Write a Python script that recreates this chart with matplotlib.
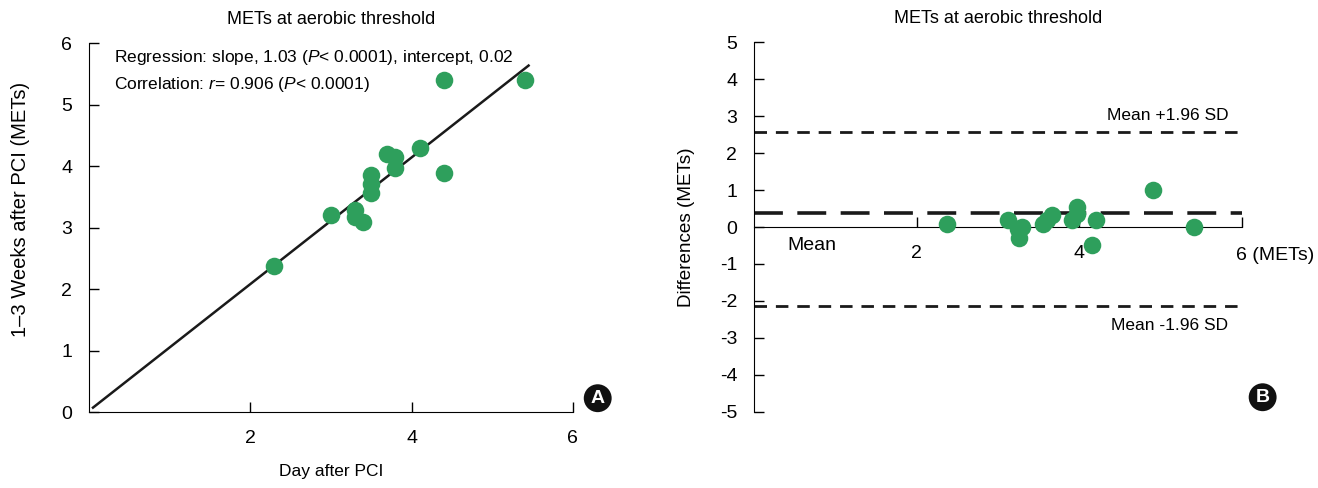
import matplotlib.pyplot as plt

plt.rcParams['font.family'] = ['Liberation Sans', 'DejaVu Sans']
plt.rcParams['axes.unicode_minus'] = False
plt.rcParams['mathtext.fontset'] = 'custom'
plt.rcParams['mathtext.it'] = 'Liberation Sans:italic'
plt.rcParams['mathtext.rm'] = 'Liberation Sans'

# METs at aerobic threshold: day after PCI vs 1-3 weeks after PCI
day_after = [2.3, 3.0, 3.3, 3.3, 3.4, 3.5, 3.5, 3.5, 3.7, 3.8, 3.8, 4.1, 4.4, 4.4, 5.4]
weeks_after = [2.37, 3.2, 3.28, 3.17, 3.09, 3.85, 3.7, 3.56, 4.2, 4.15, 3.96, 4.29, 5.4, 3.89, 5.4]
slope, intercept = 1.03, 0.02

# Bland-Altman: mean of the two tests vs difference
ba_mean = [2.37, 3.12, 3.30, 3.26, 3.25, 3.55, 3.60, 3.66, 3.91, 3.97, 3.97, 4.21, 4.15, 4.91, 5.41]
ba_diff = [0.09, 0.18, 0.0, -0.29, -0.05, 0.09, 0.2, 0.32, 0.2, 0.54, 0.36, 0.18, -0.49, 0.99, 0.0]
bias = 0.39
upper_loa = 2.56
lower_loa = -2.14

green = '#2e9f5c'
fs = 12.5
tfs = 14

fig = plt.figure(figsize=(13.18, 4.88), dpi=100)

# ---- panel A
ax1 = fig.add_axes([0.0675, 0.1557, 0.3672, 0.7561])
ax1.scatter(day_after, weeks_after, s=160, color=green, zorder=3, linewidths=0)
lx = [0.05, 5.45]
ax1.plot(lx, [slope * v + intercept for v in lx], color='#1a1a1a', lw=1.8)
ax1.set_xlim(0, 6)
ax1.set_ylim(0, 6)
ax1.set_xticks([2, 4, 6])
ax1.set_yticks(range(0, 7))
ax1.spines[['top', 'right']].set_visible(False)
ax1.tick_params(direction='in', length=7, labelsize=tfs, width=1)
ax1.tick_params(axis='y', pad=12)
ax1.tick_params(axis='x', pad=13)
ax1.set_xlabel('Day after PCI', fontsize=fs, labelpad=12)
ax1.set_ylabel('1–3 Weeks after PCI (METs)', fontsize=14.5)
ax1.yaxis.set_label_coords(-0.122, 0.55)
ax1.set_title('METs at aerobic threshold', fontsize=13, pad=14)
ax1.text(0.31, 5.77, r'Regression: slope, 1.03 ($\it{P}$< 0.0001), intercept, 0.02',
         fontsize=fs, va='center')
ax1.text(0.31, 5.33, r'Correlation: $\it{r}$= 0.906 ($\it{P}$< 0.0001)',
         fontsize=fs, va='center')

# ---- panel B
ax2 = fig.add_axes([0.5721, 0.1564, 0.3703, 0.7568])
ax2.scatter(ba_mean, ba_diff, s=160, color=green, zorder=3, linewidths=0)
ax2.plot([0, 6], [bias, bias], color='#1a1a1a', lw=2.6, dashes=(8, 4))
ax2.plot([0, 6], [upper_loa, upper_loa], color='#1a1a1a', lw=2.0, dashes=(4.5, 3.2))
ax2.plot([0, 6], [lower_loa, lower_loa], color='#1a1a1a', lw=2.0, dashes=(4.5, 3.2))
ax2.set_xlim(0, 6)
ax2.set_ylim(-5, 5)
ax2.spines[['top', 'right']].set_visible(False)
ax2.spines['bottom'].set_position(('data', 0))
ax2.set_xticks([2, 4, 6])
ax2.set_xticklabels(['2', '4', ''])
ax2.set_yticks(range(-5, 6))
ax2.tick_params(direction='in', length=7, labelsize=tfs, width=1)
ax2.tick_params(axis='y', pad=12)
ax2.tick_params(axis='x', pad=13)
ax2.set_ylabel('Differences (METs)', fontsize=13.6, labelpad=18)
ax2.set_title('METs at aerobic threshold', fontsize=13, pad=14)
ax2.text(5.93, -0.77, '6 (METs)', fontsize=tfs, ha='left', va='center', clip_on=False)
ax2.text(0.71, -0.5, 'Mean', fontsize=tfs, ha='center', va='center')
ax2.text(5.83, 3.02, 'Mean +1.96 SD', fontsize=fs, ha='right', va='center')
ax2.text(5.83, -2.68, 'Mean -1.96 SD', fontsize=fs, ha='right', va='center')

# panel badges
for x, y, s in [(0.4535, 0.184, 'A'), (0.958, 0.186, 'B')]:
    fig.text(x, y, s, color='white', fontsize=14, fontweight='bold', ha='center', va='center',
             bbox=dict(boxstyle='circle,pad=0.28', fc='#111111', ec='none'))

fig.savefig('out.png', dpi=100)
